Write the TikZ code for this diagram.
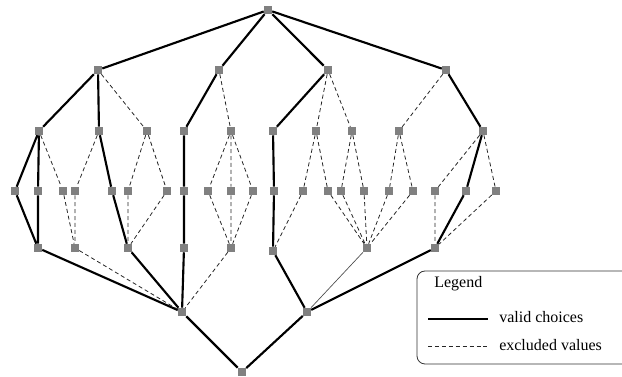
\documentclass[tikz,border=0pt]{standalone}
\usepackage{fontspec}
\setmainfont{Liberation Serif}
\usepackage{xcolor}
\usetikzlibrary{calc,positioning}

\tikzset{
	vtx/.style={rectangle, fill=gray, inner sep=0pt, minimum size=6pt},
	valid/.style={line width=1.6pt},
	excl/.style={line width=0.6pt, black!85, dash pattern=on 3pt off 2.2pt},
	faint/.style={line width=0.5pt, black!70}
}

\begin{document}
\begin{tikzpicture}[x=0.75pt,y=-0.75pt]
		\useasboundingbox (0,0) rectangle (622,377);
		
		% root and first choice
		\node[vtx] (t) at (268,10) {};
		\node[vtx] (a1) at (98,70) {};
		\node[vtx] (a2) at (219,70) {};
		\node[vtx] (a3) at (328,70) {};
		\node[vtx] (a4) at (446,70) {};
		
		% second choice
		\node[vtx] (b1) at (39,131) {};
		\node[vtx] (b2) at (99,131) {};
		\node[vtx] (b3) at (147,131) {};
		\node[vtx] (b4) at (184,131) {};
		\node[vtx] (b5) at (231,131) {};
		\node[vtx] (b6) at (273,131) {};
		\node[vtx] (b7) at (316,131) {};
		\node[vtx] (b8) at (352,131) {};
		\node[vtx] (b9) at (399,131) {};
		\node[vtx] (b10) at (483,131) {};
		
		% third choice
		\foreach \x [count=\i] in {15,38,63,75,112,128,167,184,208,231,253,274,303,328,341,364,389,413,435,466,496}
			\node[vtx] (c\i) at (\x,191) {};
		
		% merging again
		\node[vtx] (d1) at (38,248) {};
		\node[vtx] (d2) at (75,248) {};
		\node[vtx] (d3) at (128,248) {};
		\node[vtx] (d4) at (184,248) {};
		\node[vtx] (d5) at (231,248) {};
		\node[vtx] (d6) at (273,251) {};
		\node[vtx] (d7) at (367,248) {};
		\node[vtx] (d8) at (435,248) {};
		\node[vtx] (e1) at (182,312) {};
		\node[vtx] (e2) at (307,312) {};
		\node[vtx] (f) at (242,372) {};
		
		% valid choices
		\draw[valid] (t) -- (a1) (t) -- (a2) (t) -- (a3) (t) -- (a4);
		\draw[valid] (a1) -- (b1) (a1) -- (b2) (a2) -- (b4) (a3) -- (b6) (a4) -- (b10);
		\draw[valid] (b1) -- (c1) (b1) -- (c2) (b2) -- (c5) (b4) -- (c8) (b6) -- (c12) (b10) -- (c20);
		\draw[valid] (c1) -- (d1) (c2) -- (d1) (c5) -- (d3) (c8) -- (d4) (c12) -- (d6) (c20) -- (d8);
		\draw[valid] (d1) -- (e1) (d3) -- (e1) (d4) -- (e1) (d6) -- (e2) (d8) -- (e2);
		\draw[valid] (e1) -- (f) (e2) -- (f);
		
		% excluded values
		\draw[excl] (a1) -- (b3) (a2) -- (b5) (a3) -- (b7) (a3) -- (b8) (a4) -- (b9);
		\draw[excl] (b1) -- (c3) (b2) -- (c4) (b3) -- (c6) (b3) -- (c7);
		\draw[excl] (b5) -- (c9) (b5) -- (c10) (b5) -- (c11);
		\draw[excl] (b7) -- (c13) (b7) -- (c14) (b8) -- (c15) (b8) -- (c16);
		\draw[excl] (b9) -- (c17) (b9) -- (c18) (b10) -- (c19) (b10) -- (c21);
		\draw[excl] (c3) -- (d2) (c4) -- (d2) (c6) -- (d3) (c7) -- (d3);
		\draw[excl] (c9) -- (d5) (c10) -- (d5) (c11) -- (d5) (c13) -- (d6);
		\draw[excl] (c14) -- (d7) (c15) -- (d7) (c16) -- (d7) (c17) -- (d7) (c18) -- (d7);
		\draw[excl] (c19) -- (d8) (c21) -- (d8);
		\draw[excl] (d2) -- (e1) (d5) -- (e1);
		\draw[faint] (d7) -- (e2);
		
		% legend
		\draw[line width=0.6pt, black!80, rounded corners=6pt] (417,271) rectangle (632,364);
		\node[anchor=west, inner sep=0pt] (lgd) at (434,284) {\fontsize{12}{14}\selectfont Legend};
		\coordinate (v1) at (428,319);
		\coordinate (v2) at (488,319);
		\coordinate (x1) at (428,346);
		\coordinate (x2) at (488,346);
		\draw[valid] (v1) -- (v2);
		\draw[excl] (x1) -- (x2);
		\node[anchor=west, inner sep=0pt] (lv) at (499,317) {\fontsize{12}{14}\selectfont valid choices};
		\node[anchor=west, inner sep=0pt] (lx) at (499,345) {\fontsize{12}{14}\selectfont excluded values};
	\end{tikzpicture}
\end{document}
